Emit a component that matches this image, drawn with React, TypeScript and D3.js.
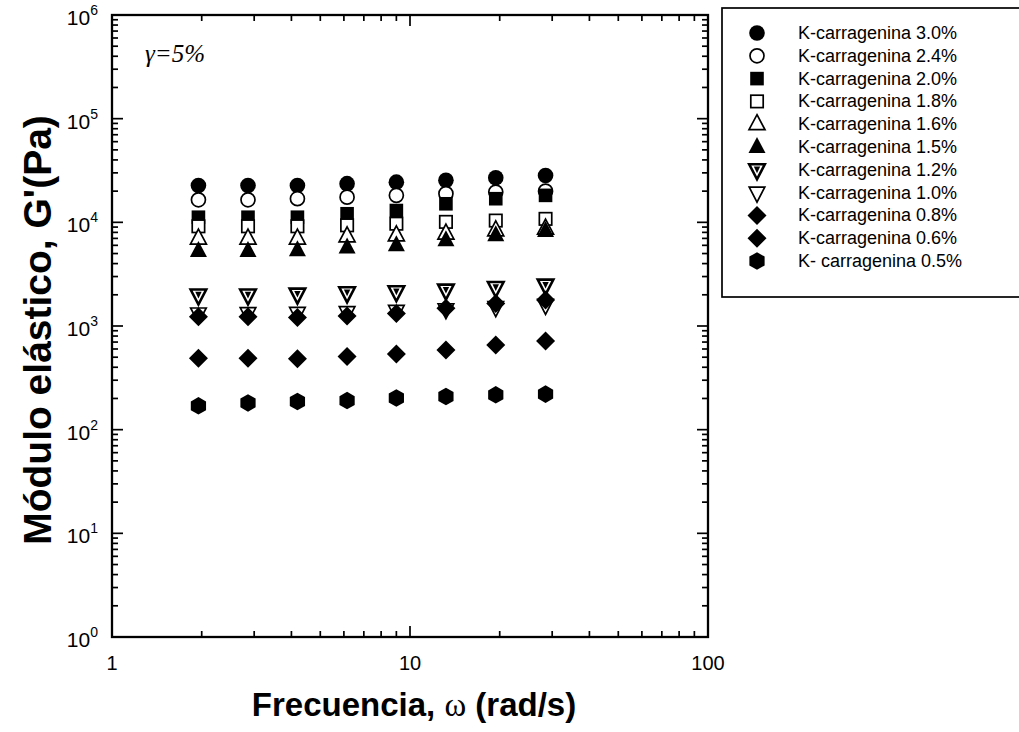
import React from "react";
import * as d3 from "d3";

const freqs = [1.95, 2.86, 4.19, 6.15, 9.0, 13.2, 19.4, 28.5];
const g30 = [22700, 22700, 22700, 23600, 24400, 25400, 26900, 28300];
const g24 = [16500, 16500, 16900, 17500, 18200, 18900, 19600, 20000];
const g20 = [11200, 11200, 11200, 12100, 13000, 15100, 16900, 18200];
const g18 = [9160, 9160, 9160, 9360, 9700, 10100, 10400, 10800];
const g16 = [6970, 6970, 6970, 7330, 7500, 7780, 8380, 8700];
const g15 = [5300, 5300, 5380, 5710, 6010, 6710, 7500, 8240];
const g12 = [1990, 1990, 2030, 2090, 2140, 2220, 2350, 2480];
const g10 = [1320, 1330, 1340, 1360, 1400, 1450, 1520, 1600];
const g08 = [1230, 1230, 1210, 1250, 1320, 1480, 1650, 1780];
const g06 = [489, 489, 482, 507, 538, 588, 656, 718];
const g05 = [170, 181, 187, 191, 202, 209, 217, 220];

const seriesLabels = [
  "K-carragenina 3.0%",
  "K-carragenina 2.4%",
  "K-carragenina 2.0%",
  "K-carragenina 1.8%",
  "K-carragenina 1.6%",
  "K-carragenina 1.5%",
  "K-carragenina 1.2%",
  "K-carragenina 1.0%",
  "K-carragenina 0.8%",
  "K-carragenina 0.6%",
  "K- carragenina 0.5%",
];
const seriesValues = [g30, g24, g20, g18, g16, g15, g12, g10, g08, g06, g05];
const seriesMarkers = [
  "circleFilled",
  "circleOpen",
  "squareFilled",
  "squareOpen",
  "triUpOpen",
  "triUpFilled",
  "triDownHatched",
  "triDownOpen",
  "diamond",
  "diamond",
  "hexagon",
];

const xTickLabels = [1, 10, 100];
const yExponents = [0, 1, 2, 3, 4, 5, 6];

const W = 1019;
const H = 732;
const L = 112, R = 708, T = 15, B = 637;
const FONT = "'Liberation Sans', Arial, Helvetica, sans-serif";
const SERIF = "'Liberation Serif', 'Times New Roman', serif";

const x = d3.scaleLog().domain([1, 100]).range([L, R]);
const y = d3.scaleLog().domain([1, 1e6]).range([B, T]);

function poly(pts: [number, number][]) {
  const p = d3.path();
  pts.forEach(([a, b], i) => (i === 0 ? p.moveTo(a, b) : p.lineTo(a, b)));
  p.closePath();
  return p.toString();
}

function Marker({ type, cx, cy }: { type: string; cx: number; cy: number }) {
  const t = `translate(${cx},${cy})`;
  switch (type) {
    case "circleFilled":
      return <circle cx={cx} cy={cy} r={7.8} fill="#000" />;
    case "circleOpen":
      return <circle cx={cx} cy={cy} r={7} fill="#fff" stroke="#000" strokeWidth={1.7} />;
    case "squareFilled":
      return <rect x={cx - 6.8} y={cy - 6.8} width={13.6} height={13.6} fill="#000" />;
    case "squareOpen":
      return <rect x={cx - 6.2} y={cy - 6.2} width={12.4} height={12.4} fill="#fff" stroke="#000" strokeWidth={1.7} />;
    case "triUpOpen":
      return <path transform={t} d={poly([[0, -9.5], [8, 5.5], [-8, 5.5]])} fill="#fff" stroke="#000" strokeWidth={1.7} />;
    case "triUpFilled":
      return <path transform={t} d={poly([[0, -10], [8.5, 6], [-8.5, 6]])} fill="#000" />;
    case "triDownHatched":
      return (
        <g transform={t}>
          <path d={poly([[-7.8, -5.5], [7.8, -5.5], [0, 9.5]])} fill="#fff" stroke="#000" strokeWidth={2.6} />
          <path d={poly([[-3.2, -3.2], [3.2, -3.2], [0, 3.5]])} fill="#000" />
        </g>
      );
    case "triDownOpen":
      return <path transform={t} d={poly([[-7.8, -5.5], [7.8, -5.5], [0, 9.5]])} fill="#fff" stroke="#000" strokeWidth={1.7} />;
    case "diamond":
      return <path transform={t} d={poly([[0, -9.5], [9.5, 0], [0, 9.5], [-9.5, 0]])} fill="#000" />;
    case "hexagon": {
      const pts: [number, number][] = d3.range(6).map((k) => {
        const a = (-90 + k * 60) * (Math.PI / 180);
        return [8.8 * Math.cos(a), 8.8 * Math.sin(a)];
      });
      return <path transform={t} d={poly(pts)} fill="#000" />;
    }
    default:
      return null;
  }
}

export default function App() {
  const xt = x.ticks();
  const yt = y.ticks();
  const isMajor = (v: number) => Math.abs(Math.log10(v) - Math.round(Math.log10(v))) < 1e-9;
  const legendY0 = 33;
  const legendStep = 22.8;

  return (
    <svg
      width={W}
      height={H}
      style={{ position: "absolute", left: 0, top: 0, background: "#fff" }}
      fontFamily={FONT}
    >
      <rect x={0} y={0} width={W} height={H} fill="#fff" />

      {/* ticks */}
      {xt.map((v, i) => {
        const len = isMajor(v) ? 11 : 6;
        const px = x(v);
        return (
          <g key={"xt" + i} stroke="#000" strokeWidth={1.7}>
            <line x1={px} x2={px} y1={B} y2={B - len} />
            <line x1={px} x2={px} y1={T} y2={T + len} />
          </g>
        );
      })}
      {yt.map((v, i) => {
        const len = isMajor(v) ? 11 : 6;
        const py = y(v);
        return (
          <g key={"yt" + i} stroke="#000" strokeWidth={1.7}>
            <line x1={L} x2={L + len} y1={py} y2={py} />
            <line x1={R} x2={R - len} y1={py} y2={py} />
          </g>
        );
      })}

      {/* frame */}
      <rect x={L} y={T} width={R - L} height={B - T} fill="none" stroke="#000" strokeWidth={2.3} />

      {/* y tick labels */}
      {yExponents.map((e) => (
        <text key={"yl" + e} x={98} y={y(Math.pow(10, e)) + 10} textAnchor="end" fontSize={21}>
          10
          <tspan dy={-10} fontSize={14}>
            {e}
          </tspan>
        </text>
      ))}

      {/* x tick labels */}
      {xTickLabels.map((v) => (
        <text key={"xl" + v} x={x(v)} y={670} textAnchor="middle" fontSize={20}>
          {v}
        </text>
      ))}

      {/* data */}
      {seriesValues.map((vals, si) => (
        <g key={"s" + si}>
          {vals.map((v, j) => (
            <Marker key={j} type={seriesMarkers[si]} cx={x(freqs[j])} cy={y(v)} />
          ))}
        </g>
      ))}

      {/* gamma annotation */}
      <text x={145} y={62} fontFamily={SERIF} fontStyle="italic" fontSize={25}>
        γ=5%
      </text>

      {/* axis titles */}
      <text x={414} y={716} textAnchor="middle" fontSize={33} fontWeight="bold">
        Frecuencia,{" "}
        <tspan fontFamily={SERIF} fontWeight="normal">
          ω
        </tspan>{" "}
        (rad/s)
      </text>
      <text
        transform={`translate(51, 330) rotate(-90)`}
        textAnchor="middle"
        fontSize={39}
        fontWeight="bold"
      >
        Módulo elástico, G'(Pa)
      </text>

      {/* legend */}
      <rect x={722} y={8} width={320} height={289} fill="#fff" stroke="#000" strokeWidth={1.7} />
      {seriesLabels.map((lab, i) => {
        const cy = legendY0 + i * legendStep;
        return (
          <g key={"lg" + i}>
            <Marker type={seriesMarkers[i]} cx={757} cy={cy} />
            <text x={798} y={cy} dominantBaseline="central" fontSize={18}>
              {lab}
            </text>
          </g>
        );
      })}
    </svg>
  );
}
